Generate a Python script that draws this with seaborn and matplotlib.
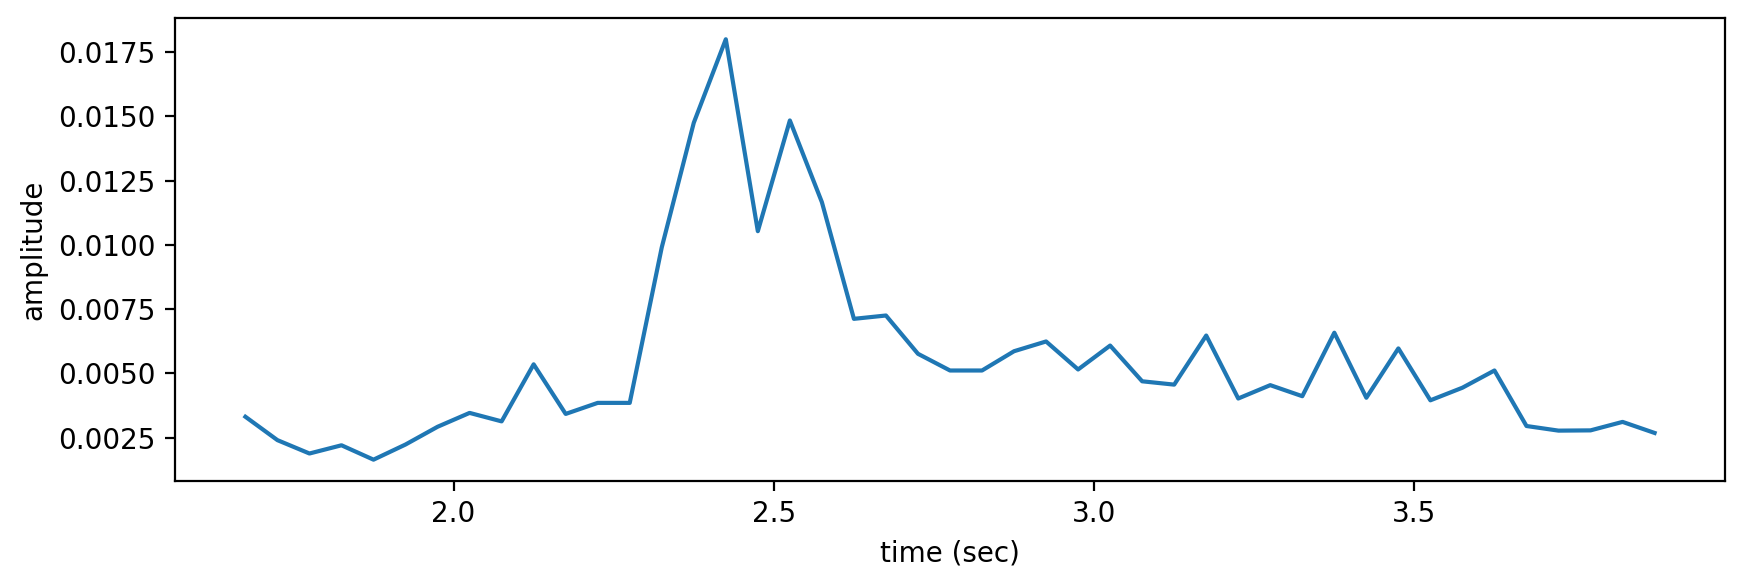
import matplotlib
matplotlib.use("Agg")
import matplotlib.pyplot as plt
import numpy as np
import pandas as pd
import seaborn as sns

# Frame times (sec): 45 windows, 0.05 s apart, starting at 1.675 s
time_sec = np.round(1.675 + 0.05 * np.arange(45), 3)

amplitude = [
    0.00331, 0.00240, 0.00188, 0.00220, 0.00164, 0.00223, 0.00292, 0.00346,
    0.00313, 0.00535, 0.00342, 0.00385, 0.00385, 0.00990, 0.01475, 0.01800,
    0.01053, 0.01484, 0.01166, 0.00712, 0.00725, 0.00576, 0.00511, 0.00511,
    0.00586, 0.00624, 0.00515, 0.00608, 0.00469, 0.00456, 0.00647, 0.00402,
    0.00454, 0.00411, 0.00658, 0.00405, 0.00597, 0.00395, 0.00444, 0.00511,
    0.00295, 0.00277, 0.00278, 0.00311, 0.00268,
]

df = pd.DataFrame({"time": time_sec, "amplitude": amplitude})

fig = plt.figure(figsize=(8.73, 2.94), dpi=200)
ax = fig.add_axes([0.1002, 0.1825, 0.8878, 0.7865])
sns.lineplot(data=df, x="time", y="amplitude", ax=ax, color="#1f77b4", linewidth=1.5)
ax.set_xlabel("time (sec)")
ax.set_ylabel("amplitude")
ax.set_xticks([2.0, 2.5, 3.0, 3.5])

fig.savefig("out.png", dpi=200)
plt.close(fig)
